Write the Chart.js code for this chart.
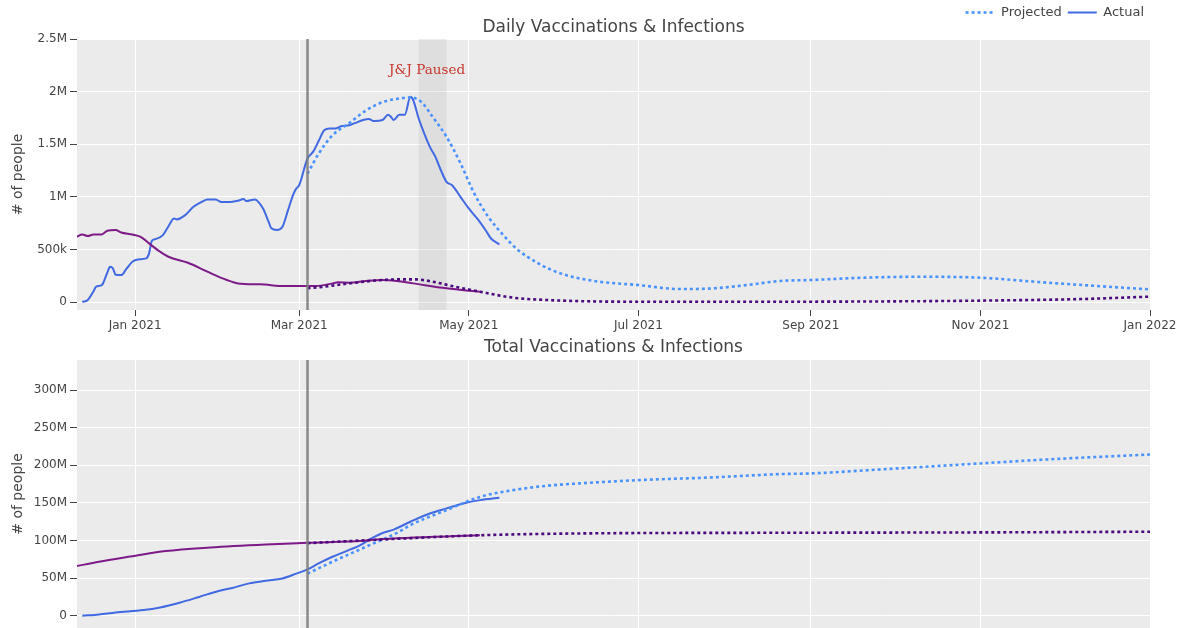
<!DOCTYPE html>
<html>
<head>
<meta charset="utf-8">
<title>Daily &amp; Total Vaccinations &amp; Infections</title>
<script src="https://cdn.jsdelivr.net/npm/chart.js@4.4.1/dist/chart.umd.min.js"></script>
<style>
  html, body { margin: 0; padding: 0; background: #ffffff; }
  #wrap { position: relative; width: 1189px; height: 628px; overflow: hidden; }
  .panel { position: absolute; left: 0; width: 1189px; }
  #daily-box { top: 0; height: 334px; }
  #total-box { top: 334px; height: 294px; }
</style>
</head>
<body>
<div id="wrap">
  <div class="panel" id="daily-box"><canvas id="dailyChart"></canvas></div>
  <div class="panel" id="total-box"><canvas id="totalChart"></canvas></div>
</div>
<script>
// ===========================================
// DATA (values in millions of people)
// ===========================================

// --- daily vaccinations ---
const dailyVaxActualDates = ['2020-12-13','2020-12-15','2020-12-17','2020-12-18','2020-12-20','2020-12-22','2020-12-23','2020-12-24','2020-12-25','2020-12-27','2020-12-29','2020-12-31','2021-01-02','2021-01-05','2021-01-06','2021-01-07','2021-01-08','2021-01-11','2021-01-13','2021-01-15','2021-01-16','2021-01-19','2021-01-22','2021-01-25','2021-01-27','2021-01-30','2021-02-01','2021-02-05','2021-02-07','2021-02-09','2021-02-10','2021-02-13','2021-02-16','2021-02-18','2021-02-19','2021-02-21','2021-02-22','2021-02-23','2021-02-25','2021-02-27','2021-02-28','2021-03-01','2021-03-04','2021-03-06','2021-03-08','2021-03-10','2021-03-12','2021-03-14','2021-03-16','2021-03-19','2021-03-21','2021-03-24','2021-03-26','2021-03-28','2021-03-31','2021-04-02','2021-04-03','2021-04-04','2021-04-06','2021-04-08','2021-04-10','2021-04-11','2021-04-13','2021-04-15','2021-04-17','2021-04-19','2021-04-21','2021-04-23','2021-04-25','2021-04-28','2021-05-01','2021-05-04','2021-05-07','2021-05-09','2021-05-12'];
const dailyVaxActual = [0.0,0.02,0.10,0.146,0.16,0.28,0.335,0.32,0.26,0.256,0.32,0.383,0.405,0.415,0.46,0.58,0.595,0.636,0.72,0.794,0.785,0.826,0.905,0.953,0.975,0.975,0.95,0.953,0.962,0.978,0.959,0.975,0.889,0.763,0.70,0.684,0.69,0.715,0.873,1.03,1.08,1.11,1.364,1.427,1.53,1.633,1.65,1.65,1.67,1.68,1.70,1.73,1.74,1.72,1.73,1.78,1.76,1.73,1.78,1.78,1.95,1.92,1.744,1.60,1.475,1.38,1.25,1.142,1.11,1.0,0.889,0.794,0.684,0.604,0.547];

const dailyVaxProjDates = ['2021-03-04','2021-03-08','2021-03-13','2021-03-19','2021-03-25','2021-03-31','2021-04-05','2021-04-10','2021-04-14','2021-04-18','2021-04-23','2021-04-28','2021-05-03','2021-05-08','2021-05-14','2021-05-18','2021-05-26','2021-06-03','2021-06-15','2021-07-01','2021-07-16','2021-07-28','2021-08-09','2021-08-21','2021-09-01','2021-09-20','2021-10-11','2021-11-01','2021-11-25','2021-12-13','2022-01-01'];
const dailyVaxProj = [1.22,1.41,1.585,1.70,1.82,1.90,1.93,1.945,1.90,1.76,1.57,1.32,1.03,0.81,0.62,0.51,0.367,0.272,0.20,0.161,0.123,0.13,0.161,0.20,0.209,0.231,0.24,0.231,0.184,0.152,0.12];

// --- daily infections ---
const dailyInfActualDates = ['2020-12-11','2020-12-13','2020-12-15','2020-12-17','2020-12-20','2020-12-22','2020-12-25','2020-12-27','2020-12-31','2021-01-03','2021-01-06','2021-01-10','2021-01-13','2021-01-20','2021-01-27','2021-02-03','2021-02-07','2021-02-15','2021-02-24','2021-03-03','2021-03-07','2021-03-13','2021-03-15','2021-03-19','2021-03-25','2021-03-31','2021-04-05','2021-04-11','2021-04-23','2021-05-05'];
const dailyInfActual = [0.62,0.642,0.627,0.642,0.642,0.677,0.684,0.661,0.642,0.62,0.557,0.478,0.43,0.373,0.288,0.209,0.177,0.168,0.152,0.152,0.152,0.177,0.187,0.184,0.20,0.209,0.20,0.177,0.13,0.098];

const dailyInfProjDates = ['2021-03-04','2021-03-10','2021-03-19','2021-03-31','2021-04-06','2021-04-12','2021-04-18','2021-04-26','2021-05-05','2021-05-17','2021-05-29','2021-06-25','2021-08-01','2021-09-01','2021-10-01','2021-11-01','2021-12-07','2022-01-01'];
const dailyInfProj = [0.13,0.146,0.177,0.209,0.215,0.215,0.193,0.146,0.098,0.041,0.019,0.003,0.002,0.003,0.006,0.013,0.028,0.051];

// --- total vaccinations ---
const totalVaxActualDates = ['2020-12-13','2020-12-19','2020-12-25','2021-01-04','2021-01-10','2021-01-17','2021-01-24','2021-01-31','2021-02-05','2021-02-11','2021-02-17','2021-02-23','2021-02-28','2021-03-04','2021-03-08','2021-03-13','2021-03-18','2021-03-23','2021-03-27','2021-03-31','2021-04-04','2021-04-10','2021-04-17','2021-04-23','2021-04-29','2021-05-05','2021-05-12'];
const totalVaxActual = [0,1.8,4.4,7.5,11,17.3,25,33,37,43,46.5,49.6,56,61.6,69.6,78.4,86,94,102.8,110,114.5,125,136,142.7,149.3,153.7,156.8];

const totalVaxProjDates = ['2021-03-04','2021-03-13','2021-03-25','2021-04-06','2021-04-10','2021-04-23','2021-05-05','2021-05-17','2021-05-29','2021-06-10','2021-07-01','2021-07-28','2021-08-21','2021-09-01','2021-09-26','2021-11-01','2021-11-25','2022-01-01'];
const totalVaxProj = [56,71.8,91.7,111.7,120.5,140.4,158,167,172.8,176,180.3,184,188.3,189.2,194.5,202.5,207.8,214.4];

// --- total infections ---
const totalInfActualDates = ['2020-12-11','2020-12-19','2020-12-31','2021-01-12','2021-01-28','2021-02-17','2021-03-04','2021-03-24','2021-03-29','2021-05-05'];
const totalInfActual = [66,71.8,79,86,90.8,94.8,97,99.7,101.5,107];

const totalInfProjDates = ['2021-03-04','2021-03-29','2021-05-05','2021-06-10','2021-08-21','2021-11-01','2022-01-01'];
const totalInfProj = [96.5,101,107,109.4,110.3,110.8,111.7];

// --- axes & events ---
const xRange = ['2020-12-11', '2022-01-01'];
const monthTickDates = ['2021-01-01','2021-03-01','2021-05-01','2021-07-01','2021-09-01','2021-11-01','2022-01-01'];
const monthTickLabels = ['Jan 2021','Mar 2021','May 2021','Jul 2021','Sep 2021','Nov 2021','Jan 2022'];
const dailyTickValues = [0, 0.5, 1, 1.5, 2, 2.5];
const dailyTickLabels = ['0', '500k', '1M', '1.5M', '2M', '2.5M'];
const totalTickValues = [0, 50, 100, 150, 200, 250, 300];
const totalTickLabels = ['0', '50M', '100M', '150M', '200M', '250M', '300M'];
const projectionStart = '2021-03-04';
const pauseRange = ['2021-04-13', '2021-04-23'];
const pauseLabel = { date: '2021-04-16', value: 2.2, text: 'J&J Paused' };

// ===========================================
// HELPERS
// ===========================================

const FONT = "'DejaVu Sans', Verdana, sans-serif";
const TEXT = '#444444';
const COLORS = {
    vaxActual: '#4169e1',
    vaxProj: '#4a93ff',
    infActual: '#7d1a87',
    infProj: '#4b0a7d'
};

const EPOCH = Date.UTC(2021, 0, 1);
function toDay(s) {
    const [y, m, d] = s.split('-').map(Number);
    return (Date.UTC(y, m - 1, d) - EPOCH) / 86400000;
}
function pts(dates, values) {
    return dates.map((d, i) => ({ x: toDay(d), y: values[i] }));
}

function lineSet(label, dates, values, color, projected) {
    return {
        label: label,
        data: pts(dates, values),
        borderColor: color,
        backgroundColor: color,
        borderWidth: projected ? 2.6 : 2,
        borderDash: projected ? [3, 3] : [],
        pointRadius: 0,
        fill: false,
        cubicInterpolationMode: 'monotone'
    };
}

// ===========================================
// PLUGINS
// ===========================================

// grey plot background (ggplot style)
const panelBackground = {
    id: 'panelBackground',
    beforeDraw(chart) {
        const { ctx, chartArea: a } = chart;
        ctx.save();
        ctx.fillStyle = '#ebebeb';
        ctx.fillRect(a.left, a.top, a.width, a.height);
        ctx.restore();
    }
};

// vertical line where the projection starts
const projectionLine = {
    id: 'projectionLine',
    afterDatasetsDraw(chart) {
        const { ctx, chartArea: a, scales } = chart;
        const x = scales.x.getPixelForValue(toDay(projectionStart));
        ctx.save();
        ctx.strokeStyle = 'rgba(125,125,125,0.9)';
        ctx.lineWidth = 2.5;
        ctx.beginPath();
        ctx.moveTo(x, a.top);
        ctx.lineTo(x, a.bottom);
        ctx.stroke();
        ctx.restore();
    }
};

// J&J pause band + label (daily chart only)
const pauseBand = {
    id: 'pauseBand',
    beforeDatasetsDraw(chart) {
        const { ctx, chartArea: a, scales } = chart;
        const x0 = scales.x.getPixelForValue(toDay(pauseRange[0]));
        const x1 = scales.x.getPixelForValue(toDay(pauseRange[1]));
        ctx.save();
        ctx.fillStyle = 'rgba(190,190,190,0.28)';
        ctx.fillRect(x0, a.top, x1 - x0, a.height);
        ctx.restore();
    },
    afterDatasetsDraw(chart) {
        const { ctx, scales } = chart;
        ctx.save();
        ctx.font = "13.5px 'DejaVu Serif', Georgia, serif";
        ctx.fillStyle = '#c8372d';
        ctx.textAlign = 'center';
        ctx.textBaseline = 'middle';
        ctx.fillText(pauseLabel.text, scales.x.getPixelForValue(toDay(pauseLabel.date)), scales.y.getPixelForValue(pauseLabel.value));
        ctx.restore();
    }
};

// fixed legend row height so the title sits right under it
const compactLegend = {
    id: 'compactLegend',
    beforeInit(chart) {
        const fit = chart.legend.fit;
        chart.legend.fit = function () {
            fit.call(this);
            this.height = 20;
        };
    }
};

// ===========================================
// AXES
// ===========================================

function xAxis(showLabels) {
    return {
        type: 'linear',
        min: toDay(xRange[0]) + 0.1,
        max: toDay(xRange[1]),
        afterBuildTicks: s => { s.ticks = monthTickDates.map(d => ({ value: toDay(d) })); },
        afterFit: s => { s.height = showLabels ? 24 : 0; s.paddingLeft = 0; s.paddingRight = 0; },
        border: { display: false },
        grid: { color: '#ffffff', lineWidth: 1, drawTicks: showLabels, tickLength: 6, tickColor: TEXT },
        ticks: {
            display: showLabels,
            color: TEXT,
            font: { family: FONT, size: 12 },
            padding: 3,
            maxRotation: 0,
            autoSkip: false,
            callback: (v, i) => monthTickLabels[i]
        }
    };
}

function yAxis(min, max, tickValues, tickLabels) {
    return {
        min: min,
        max: max,
        afterBuildTicks: s => { s.ticks = tickValues.map(v => ({ value: v })); },
        afterFit: s => { s.width = 77; s.paddingTop = 0; s.paddingBottom = 0; },
        border: { display: false },
        grid: { color: '#ffffff', lineWidth: 1, tickLength: 7, tickColor: TEXT },
        ticks: {
            color: TEXT,
            font: { family: FONT, size: 12 },
            padding: 3,
            callback: (v, i) => tickLabels[i]
        },
        title: {
            display: true,
            text: '# of people',
            color: TEXT,
            font: { family: FONT, size: 14 },
            padding: { top: 9.5, bottom: 0 }
        }
    };
}

function titleOpts(text, padTop, padBottom) {
    return {
        display: true,
        text: text,
        color: TEXT,
        fullSize: false,
        font: { family: FONT, size: 17, weight: 'normal', lineHeight: 0.8 },
        padding: { top: padTop, bottom: padBottom }
    };
}

// ===========================================
// CHARTS
// ===========================================

Chart.defaults.font.family = FONT;

const legendItems = [
    { text: 'Projected', strokeStyle: COLORS.vaxProj, fillStyle: COLORS.vaxProj, fontColor: TEXT,
      lineWidth: 2.6, lineDash: [3, 3], pointStyle: 'line', hidden: false },
    { text: 'Actual', strokeStyle: COLORS.vaxActual, fillStyle: COLORS.vaxActual, fontColor: TEXT,
      lineWidth: 2, lineDash: [], pointStyle: 'line', hidden: false }
];

new Chart(document.getElementById('dailyChart'), {
    type: 'line',
    data: {
        datasets: [
            lineSet('Infections projected', dailyInfProjDates, dailyInfProj, COLORS.infProj, true),
            lineSet('Infections', dailyInfActualDates, dailyInfActual, COLORS.infActual, false),
            lineSet('Vaccinations projected', dailyVaxProjDates, dailyVaxProj, COLORS.vaxProj, true),
            lineSet('Vaccinations', dailyVaxActualDates, dailyVaxActual, COLORS.vaxActual, false)
        ]
    },
    options: {
        responsive: true,
        maintainAspectRatio: false,
        animation: false,
        events: [],
        layout: { padding: { left: 0, right: 39, top: 0, bottom: 0 } },
        plugins: {
            title: titleOpts('Daily Vaccinations & Infections', 1.2, 4.2),
            tooltip: { enabled: false },
            legend: {
                position: 'top',
                align: 'end',
                weight: 3000,
                labels: {
                    usePointStyle: true,
                    pointStyleWidth: 29,
                    padding: 6,
                    color: TEXT,
                    font: { family: FONT, size: 13 },
                    generateLabels: () => legendItems
                }
            }
        },
        scales: {
            x: xAxis(true),
            y: yAxis(-0.076, 2.5, dailyTickValues, dailyTickLabels)
        }
    },
    plugins: [compactLegend, panelBackground, pauseBand, projectionLine]
});

new Chart(document.getElementById('totalChart'), {
    type: 'line',
    data: {
        datasets: [
            lineSet('Infections projected', totalInfProjDates, totalInfProj, COLORS.infProj, true),
            lineSet('Infections', totalInfActualDates, totalInfActual, COLORS.infActual, false),
            lineSet('Vaccinations projected', totalVaxProjDates, totalVaxProj, COLORS.vaxProj, true),
            lineSet('Vaccinations', totalVaxActualDates, totalVaxActual, COLORS.vaxActual, false)
        ]
    },
    options: {
        responsive: true,
        maintainAspectRatio: false,
        animation: false,
        events: [],
        layout: { padding: { left: 0, right: 39, top: 0, bottom: 0 } },
        plugins: {
            title: titleOpts('Total Vaccinations & Infections', 7.2, 5.2),
            tooltip: { enabled: false },
            legend: { display: false }
        },
        scales: {
            x: xAxis(false),
            y: yAxis(-16.3, 340, totalTickValues, totalTickLabels)
        }
    },
    plugins: [panelBackground, projectionLine]
});
</script>
</body>
</html>
